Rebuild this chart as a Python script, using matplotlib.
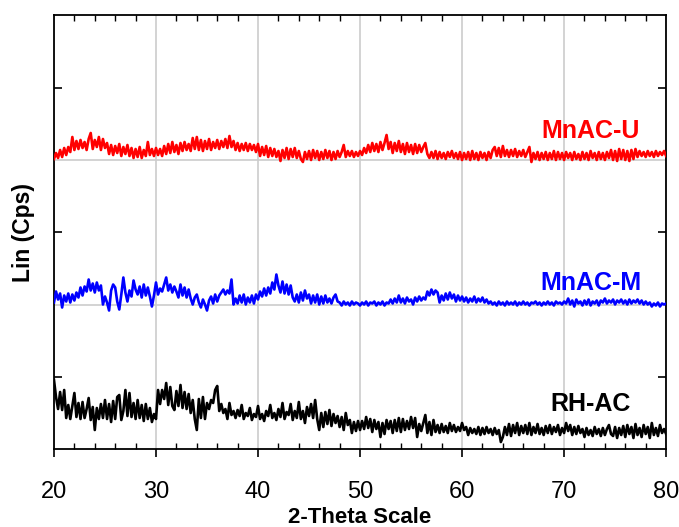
import numpy as np
import matplotlib
matplotlib.use("Agg")
import matplotlib.pyplot as plt
from matplotlib.ticker import MultipleLocator

plt.rcParams['font.family'] = ['Liberation Sans', 'DejaVu Sans']

# intensities (arbitrary cps), 2-theta from 20 to 80 in 0.2 deg steps
# one row = 2 degrees
mnac_u = [1, 7, 2, 10, 3, 12, 5, 13, 8, 23,
          10, 19, 11, 20, 12, 18, 10, 21, 27, 11,
          20, 13, 23, 10, 21, 12, 17, 6, 15, 5,
          14, 7, 16, 4, 13, 6, 15, 4, 12, 2,
          11, 3, 13, 2, 10, 4, 18, 5, 11, 4,
          12, 5, 11, 4, 14, 6, 16, 7, 18, 8,
          15, 6, 17, 9, 18, 10, 16, 9, 22, 11,
          23, 10, 20, 9, 19, 11, 21, 10, 18, 12,
          20, 11, 19, 13, 21, 12, 24, 13, 19, 10,
          17, 9, 16, 10, 17, 9, 16, 10, 15, 8,
          16, 4, 13, 5, 14, 3, 12, 4, 11, 3,
          9, -1, 10, 2, 12, 1, 11, 3, 12, 2,
          9, 1, -2, 8, 1, 9, 0, 10, 2, 9,
          0, 8, 1, 10, 2, 9, 0, 8, 1, 9,
          3, 8, 15, 3, 9, 4, 9, 3, 8, 4,
          9, 5, 12, 7, 15, 8, 17, 9, 16, 8,
          18, 10, 17, 25, 11, 18, 7, 17, 9, 19,
          8, 16, 6, 17, 8, 15, 6, 16, 7, 15,
          8, 13, 17, 6, 2, 8, 2, 9, 1, 8,
          2, 7, 1, 8, 3, 9, 2, 7, 1, 8,
          0, 7, 1, 8, 0, 9, 1, 7, 0, 8,
          2, 7, 0, 8, 2, 10, 13, 4, 12, 3,
          14, 4, 10, 3, 10, 4, 11, 3, 9, 4,
          10, 3, 8, 13, -2, 7, 1, 8, 0, 7,
          1, 8, 0, 7, 1, 9, 0, 8, 1, 7,
          0, 8, 2, 7, 0, 8, 1, 6, 0, 8,
          1, 7, 0, 9, 2, 7, 0, 8, 1, 7,
          0, 8, 2, 10, 0, 9, -1, 11, 1, 10,
          0, 9, -1, 10, 1, 11, 3, 9, 4, 8,
          3, 9, 4, 8, 3, 9, 4, 8, 5, 9,
          4]
mnac_m = [2, 13, 5, 11, -3, 9, 3, 11, 2, 10,
          4, 12, 7, 17, 9, 18, 13, 25, 14, 21,
          12, 22, 14, 19, 0, 8, 2, -6, 14, 20,
          17, 3, -5, 10, 27, 12, 3, 14, 8, 24,
          15, 10, 18, 7, 20, 9, 17, 8, -2, 9,
          22, 10, 16, 13, 20, 27, 14, 20, 12, 18,
          13, 7, 20, 9, 17, 7, 15, 6, 0, 7,
          10, 2, -3, 5, 0, -6, 4, 8, 1, 10,
          3, 9, 12, 15, 10, 14, 11, 25, 0, 6,
          1, 9, 2, 10, 0, 7, 2, 9, 1, 10,
          5, 13, 8, 16, 9, 17, 11, 22, 15, 30,
          19, 12, 23, 11, 20, 10, 19, 7, 3, 10,
          2, 12, 4, 14, 6, 10, 1, 9, 2, 10,
          0, 8, 1, 9, 2, 6, 1, 7, 10, 3,
          2, -1, 3, 0, 2, -1, 3, 0, 2, 1,
          -1, 2, 0, 3, -1, 2, 1, 3, -1, 2,
          0, 3, -1, 2, 1, 5, 1, 6, 2, 9,
          2, 6, 1, 7, 3, 5, 0, 7, 3, 8,
          4, 7, 5, 13, 9, 15, 10, 14, 12, 2,
          9, 4, 11, 5, 12, 6, 10, 3, 9, 4,
          8, 3, 7, 2, 6, 3, 8, 2, 6, 3,
          7, 2, 5, 1, 3, 0, 2, -1, 3, 0,
          2, -1, 3, 0, 2, 0, 3, -1, 2, 0,
          3, 0, 2, -1, 2, 1, 3, 0, 2, -1,
          2, 0, 3, 0, 2, -1, 3, 1, 2, 0,
          3, 1, 6, 0, 4, -2, 5, 1, 3, -1,
          4, 0, 5, -1, 3, 1, 4, -1, 4, 2,
          6, 1, 4, 2, 5, 0, 4, 2, 5, 1,
          4, 0, 5, 1, 4, 2, 5, 1, 4, 0,
          3, 0, 2, -2, 1, -1, 2, -2, 1, 0,
          1]
rh_ac = [69, 52, 40, 57, 39, 59, 31, 44, 30, 43,
         56, 32, 46, 30, 47, 31, 40, 51, 29, 42,
         19, 41, 30, 45, 31, 49, 30, 45, 27, 48,
         30, 52, 54, 29, 38, 59, 33, 56, 32, 46,
         30, 49, 31, 44, 28, 45, 30, 41, 27, 35,
         30, 59, 45, 59, 50, 66, 44, 62, 43, 39,
         58, 43, 64, 41, 57, 40, 55, 36, 49, 30,
         19, 50, 31, 52, 30, 46, 40, 49, 46, 59,
         63, 38, 45, 36, 40, 30, 46, 34, 38, 31,
         39, 33, 44, 30, 36, 33, 41, 29, 35, 32,
         43, 30, 35, 28, 38, 33, 44, 31, 36, 29,
         40, 32, 46, 30, 37, 34, 45, 29, 38, 31,
         47, 30, 38, 26, 42, 33, 45, 31, 49, 30,
         19, 36, 22, 37, 25, 39, 23, 35, 26, 33,
         22, 32, 19, 36, 24, 29, 16, 27, 18, 28,
         19, 28, 20, 32, 21, 30, 17, 29, 20, 27,
         12, 26, 15, 29, 20, 28, 16, 29, 18, 31,
         17, 30, 19, 28, 20, 32, 21, 31, 12, 25,
         18, 26, 34, 16, 27, 14, 29, 17, 24, 16,
         25, 17, 23, 16, 26, 18, 24, 17, 22, 18,
         26, 19, 22, 14, 21, 16, 20, 15, 22, 14,
         21, 15, 22, 16, 20, 14, 21, 15, 19, 7,
         12, 22, 14, 25, 13, 24, 16, 26, 14, 23,
         16, 24, 15, 26, 14, 22, 16, 25, 15, 21,
         14, 23, 16, 24, 15, 22, 17, 24, 14, 21,
         16, 26, 18, 24, 14, 22, 15, 23, 16, 20,
         12, 21, 14, 19, 13, 22, 15, 20, 13, 21,
         14, 20, 24, 15, 13, 22, 11, 21, 14, 23,
         12, 24, 15, 22, 11, 25, 14, 21, 12, 24,
         15, 22, 11, 26, 14, 21, 13, 24, 16, 20,
         15]

assert len(mnac_u) == len(mnac_m) == len(rh_ac) == 301
two_theta = 20 + 0.2 * np.arange(301)

names = ['MnAC-U', 'MnAC-M', 'RH-AC']
colors = ['#ff0000', '#0000ff', '#000000']
offsets = [4, 2, 0]
scale = 72.25  # cps per gridline step

fig = plt.figure(figsize=(6.79, 5.27), dpi=100)
ax = fig.add_axes([0.0795, 0.148, 0.9015, 0.8226])

for y, name, c, off in zip([mnac_u, mnac_m, rh_ac], names, colors, offsets):
    ax.plot(two_theta, off + np.array(y) / scale, color=c, lw=1.9, zorder=3)

label_y = [4.40, 2.30, 0.62]
for name, c, ly in zip(names, colors, label_y):
    ax.text(72.6, ly, name, color=c, fontsize=18, fontweight='bold',
            ha='center', va='center')

ax.set_xlim(20, 80)
ax.set_ylim(0, 6)
ax.xaxis.set_major_locator(MultipleLocator(10))
ax.xaxis.set_minor_locator(MultipleLocator(2))
ax.set_yticks([1, 3, 5])
ax.set_yticks([1, 2, 3, 4, 5], minor=True)
ax.set_yticklabels([])

ax.grid(True, which='major', axis='x', color='#cccccc', lw=1.2, zorder=0)
ax.grid(True, which='minor', axis='y', color='#cccccc', lw=1.2, zorder=0)

ax.tick_params(axis='x', which='major', direction='out', length=6, width=1.2,
               labelsize=17, pad=17, top=False)
ax.tick_params(axis='x', which='minor', direction='in', length=4, width=1.0,
               top=True, bottom=True)
ax.tick_params(axis='y', which='major', direction='in', length=6, width=1.2,
               left=True, right=True)
ax.tick_params(axis='y', which='minor', length=0)

for s in ax.spines.values():
    s.set_linewidth(1.3)

ax.set_xlabel('2-Theta Scale', fontsize=16, fontweight='bold', labelpad=3)
ax.set_ylabel('Lin (Cps)', fontsize=16.5, fontweight='bold', labelpad=10)

fig.savefig('out.png', dpi=100)
